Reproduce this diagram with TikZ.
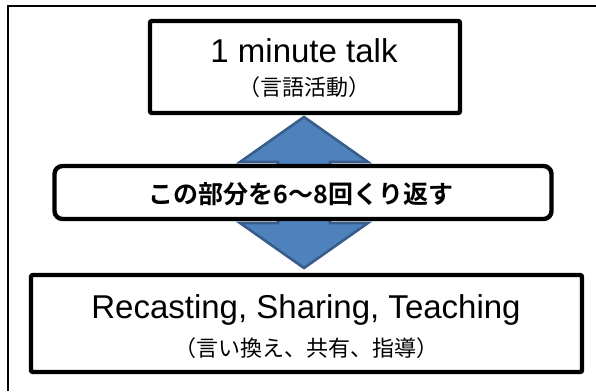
\documentclass[tikz,border=0pt]{standalone}
\usepackage{fontspec}
\setmainfont{Liberation Sans}
\newfontfamily\jp{Noto Sans CJK JP}[BoldFont={Noto Sans CJK JP Bold}]
\definecolor{arrowfill}{HTML}{4F81BD}
\definecolor{arrowline}{HTML}{385D8A}
\begin{document}
\begin{tikzpicture}[x=1pt,y=-1pt,
  box/.style={draw=black, line width=4.4pt, fill=white, inner sep=0pt, rounded corners=2pt},
  roundbox/.style={box, rounded corners=8pt},
  maintext/.style={font=\fontsize{33}{36}\selectfont, inner sep=0pt, anchor=base},
  subtext/.style={font=\jp\fontsize{22}{24}\selectfont, inner sep=0pt, anchor=base},
  midtext/.style={font=\jp\bfseries\fontsize{25}{28}\selectfont, inner sep=0pt, anchor=base},
  bigarrow/.style={fill=arrowfill, draw=arrowline, line width=2.6pt, line join=miter}]
\useasboundingbox (0,0) rectangle (596,391);
\fill[white] (0,0) rectangle (596,391);
% outer frame
\draw[line width=1.6pt] (8,391) -- (8,6) -- (596,6);
% double arrow
\draw[bigarrow] (304,117) -- (368,162) -- (330,162) -- (330,223) -- (368,223) -- (304,268)
  -- (240,223) -- (278,223) -- (278,162) -- (240,162) -- cycle;
% boxes
\node[box, minimum width=310pt, minimum height=92pt] (top) at (305,67) {};
\node[roundbox, minimum width=497pt, minimum height=53pt] (mid) at (303,192.5) {};
\node[box, minimum width=551pt, minimum height=97pt] (bot) at (306.5,323.5) {};
% texts
\node[maintext] (toptitle) at (304,62) {1 minute talk};
\node[subtext] (topsub) at (304,95) {（言語活動）};
\node[midtext] (midlabel) at (301,203) {この部分を6～8回くり返す};
\node[maintext] (bottitle) at (306,318) {Recasting, Sharing, Teaching};
\node[subtext] (botsub) at (306,356) {（言い換え、共有、指導）};
\end{tikzpicture}
\end{document}
